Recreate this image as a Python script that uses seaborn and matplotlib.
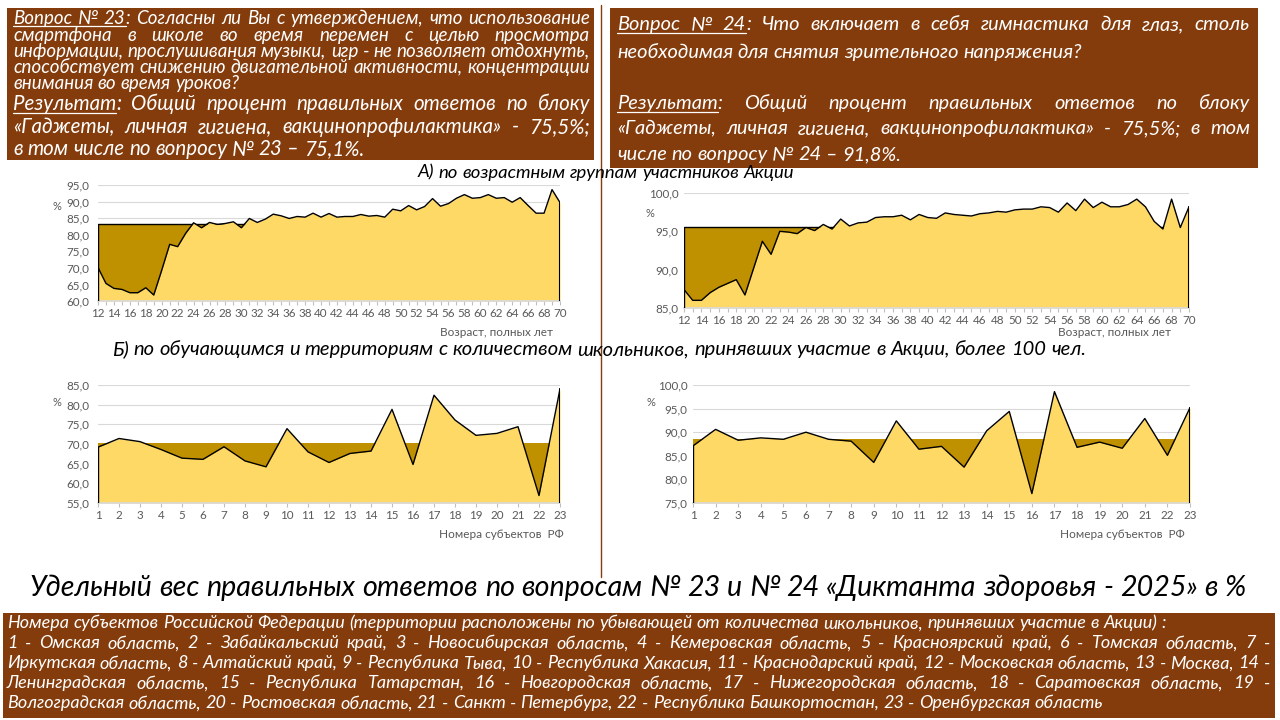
import matplotlib
matplotlib.use("Agg")
import matplotlib.pyplot as plt
from matplotlib.lines import Line2D
from matplotlib.patches import Rectangle
from matplotlib.ticker import FuncFormatter
import numpy as np
import seaborn as sns

# ---- data -------------------------------------------------------------
ages = list(range(12, 71))
q23_by_age = [70.1, 65.3, 63.8, 63.5, 62.5, 62.5, 64.0, 61.8, 69.3, 77.1,
              76.4, 80.4, 83.6, 82.1, 83.7, 83.1, 83.4, 83.9, 82.1, 84.9,
              83.7, 84.7, 86.2, 85.7, 84.9, 85.5, 85.3, 86.5, 85.3, 86.4,
              85.3, 85.5, 85.5, 86.1, 85.6, 85.8, 85.3, 87.7, 87.2, 88.8,
              87.5, 88.5, 90.9, 88.6, 89.4, 91.0, 92.1, 91.0, 91.2, 92.1,
              91.0, 91.2, 89.8, 91.2, 88.8, 86.5, 86.5, 93.6, 89.7]
q24_by_age = [87.4, 86.0, 86.0, 87.0, 87.7, 88.2, 88.7, 86.7, 90.2, 93.7,
              92.0, 95.0, 94.9, 94.7, 95.5, 95.1, 95.9, 95.3, 96.6, 95.7,
              96.1, 96.2, 96.8, 96.9, 96.9, 97.1, 96.5, 97.2, 96.8, 96.7,
              97.4, 97.2, 97.1, 97.0, 97.3, 97.4, 97.6, 97.5, 97.8, 97.9,
              97.9, 98.2, 98.1, 97.5, 98.7, 97.7, 99.2, 98.1, 98.8, 98.2,
              98.2, 98.5, 99.2, 98.2, 96.3, 95.3, 99.2, 95.5, 98.2]
q23_age_mean = 83.1
q24_age_mean = 95.6

regions = list(range(1, 24))
q23_by_region = [69.2, 71.4, 70.6, 68.6, 66.4, 66.1, 69.3, 65.7, 64.2, 73.9,
                 68.0, 65.3, 67.6, 68.2, 78.8, 64.8, 82.4, 76.1, 72.2, 72.7,
                 74.4, 56.9, 84.0]
q24_by_region = [87.1, 90.6, 88.3, 88.8, 88.5, 90.0, 88.5, 88.1, 83.6, 92.4,
                 86.4, 87.0, 82.6, 90.3, 94.4, 77.0, 98.6, 86.8, 87.9, 86.6,
                 92.9, 85.1, 95.2]
q23_region_mean = 70.2
q24_region_mean = 88.6

# [ ... ] marks underlined text
box1_question = [
    "[Вопрос № 23]: Согласны ли Вы с утверждением, что использование",
    "смартфона в школе во время перемен с целью просмотра",
    "информации, прослушивания музыки, игр - не позволяет отдохнуть,",
    "способствует снижению двигательной активности, концентрации",
    "внимания во время уроков?",
]
box1_result = [
    "[Результат]: Общий процент правильных ответов по блоку",
    "«Гаджеты, личная гигиена, вакцинопрофилактика» - 75,5%;",
    "в том числе по вопросу № 23 – 75,1%.",
]
box2_lines = [
    "[Вопрос № 24]: Что включает в себя гимнастика для глаз, столь",
    "необходимая для снятия зрительного напряжения?",
    "[Результат]: Общий процент правильных ответов по блоку",
    "«Гаджеты, личная гигиена, вакцинопрофилактика» - 75,5%; в том",
    "числе по вопросу № 24 – 91,8%.",
]
legend_lines = [
    "Номера субъектов Российской Федерации (территории расположены по убывающей от количества школьников, принявших участие в Акции) :",
    "1 - Омская область, 2 - Забайкальский край, 3 - Новосибирская область, 4 - Кемеровская область, 5 - Красноярский край, 6 - Томская область, 7 -",
    "Иркутская область, 8 - Алтайский край, 9 - Республика Тыва, 10 - Республика Хакасия, 11 - Краснодарский край, 12 - Московская область, 13 - Москва, 14 -",
    "Ленинградская область, 15 - Республика Татарстан, 16 - Новгородская область, 17 - Нижегородская область, 18 - Саратовская область, 19 -",
    "Волгоградская область, 20 - Ростовская область, 21 - Санкт - Петербург, 22 - Республика Башкортостан, 23 - Оренбургская область",
]
title = "Удельный вес правильных ответов по вопросам № 23 и № 24 «Диктанта здоровья - 2025» в %"
sub_a = "А) по возрастным группам участников Акции"
sub_b = "Б) по обучающимся и территориям с количеством школьников,  принявших участие в Акции, более 100 чел."

# ---- style ------------------------------------------------------------
sns.set_theme(style="white")
plt.rcParams["font.family"] = ["Lato", "DejaVu Sans"]

W, H = 1280, 720
BROWN = "#843C0C"
LIGHT = "#FFD966"
DARK = "#BF9000"
GRID = "#D9D9D9"
TICK = "#595959"

fig = plt.figure(figsize=(12.8, 7.2), dpi=100)
fig.patch.set_facecolor("white")
renderer = fig.canvas.get_renderer()


def text_width(s, size):
    t = fig.text(0, 0, s, fontsize=size, style="italic")
    w = t.get_window_extent(renderer).width
    t.remove()
    return w


def space_width(size):
    return text_width("н н", size) - text_width("нн", size)


def parse(line):
    words, ul = [], False
    for raw in line.split():
        pieces, buf = [], ""
        for ch in raw:
            if ch in "[]":
                if buf:
                    pieces.append((buf, ul))
                    buf = ""
                ul = ch == "["
            else:
                buf += ch
        if buf:
            pieces.append((buf, ul))
        words.append(pieces)
    return words


def natural_width(line, size):
    words = parse(line)
    total = sum(text_width(p, size) for w in words for p, _ in w)
    return total + (len(words) - 1) * space_width(size)


def fit_size(specs, base=12.0):
    return min(base * tw / natural_width(l, base) for l, tw in specs)


def underline(a, b, ybase, size, color):
    y = ybase + size * 100 / 72 * 0.13
    fig.add_artist(Line2D([a / W, b / W], [1 - y / H, 1 - y / H],
                          transform=fig.transFigure, color=color, lw=0.9))


def draw_line(line, x0, x1, yc, size, justify=False, color="white", center=False):
    words = parse(line)
    widths = [[text_width(p, size) for p, _ in w] for w in words]
    total = sum(sum(w) for w in widths)
    if justify and len(words) > 1:
        gap = (x1 - x0 - total) / (len(words) - 1)
    else:
        gap = space_width(size)
    x = x0
    if center:
        x = (x0 + x1) / 2 - (total + gap * (len(words) - 1)) / 2
    ybase = yc + size * 100 / 72 * 0.3
    ul_start = ul_end = None
    for word, ws in zip(words, widths):
        for (piece, ul), w in zip(word, ws):
            fig.text(x / W, 1 - ybase / H, piece, fontsize=size, style="italic",
                     color=color, va="baseline", ha="left")
            if ul:
                if ul_start is None:
                    ul_start = x
                ul_end = x + w
            elif ul_start is not None:
                underline(ul_start, ul_end, ybase, size, color)
                ul_start = None
            x += w
        x += gap
    if ul_start is not None:
        underline(ul_start, ul_end, ybase, size, color)


def box(x0, y0, x1, y1):
    fig.add_artist(Rectangle((x0 / W, 1 - y1 / H), (x1 - x0) / W, (y1 - y0) / H,
                             transform=fig.transFigure, facecolor=BROWN,
                             edgecolor="none", zorder=0))


# ---- text boxes -------------------------------------------------------
box(7, 8, 594, 160)
s = fit_size([(l, 577) for l in box1_question[:4]] + [(box1_question[4], 226)])
for line, yc in zip(box1_question, [18, 35, 51, 67, 83]):
    draw_line(line, 13, 590, yc, s, justify=not line.endswith("?"))
s = fit_size([(l, 577) for l in box1_result[:2]] + [(box1_result[2], 351)])
for line, yc, j in zip(box1_result, [104, 127, 149], [True, True, False]):
    draw_line(line, 13, 590, yc, s, justify=j)

box(610, 8, 1258, 168)
just2 = [True, False, True, True, False]
s = fit_size([(box2_lines[0], 633), (box2_lines[1], 482), (box2_lines[2], 633),
              (box2_lines[3], 633), (box2_lines[4], 282)])
for line, yc, j in zip(box2_lines, [24, 52, 103, 128, 154], just2):
    draw_line(line, 617, 1250, yc, s, justify=j)

box(3, 613, 1275, 718)
just3 = [False, True, True, True, False]
s = fit_size([(legend_lines[0], 1193), (legend_lines[1], 1263), (legend_lines[2], 1263),
              (legend_lines[3], 1263), (legend_lines[4], 1094)])
for line, yc, j in zip(legend_lines, [623, 643, 663, 683, 703], just3):
    draw_line(line, 7, 1270, yc, s, justify=j)

# titles
draw_line(title, 33, 1243, 587, fit_size([(title, 1210)]), color="black", center=True)
draw_line(sub_a, 418, 793, 172, fit_size([(sub_a, 375)]), color="black", center=True)
draw_line(sub_b, 115, 1083, 349, fit_size([(sub_b, 968)]), color="black", center=True)

fig.add_artist(Line2D([601 / W, 601 / W], [1 - 5 / H, 1 - 577 / H],
                      transform=fig.transFigure, color=BROWN, lw=1))


# ---- charts -----------------------------------------------------------
def chart(rect, x, y, mean, ylim, step, label_every, xlabel, xlabel_xy, pct_xy,
          mean_edge, ypad):
    x0, x1, ytop, ybot = rect
    ax = fig.add_axes([x0 / W, 1 - ybot / H, (x1 - x0) / W, (ybot - ytop) / H])
    lo, hi = ylim
    ax.fill_between(x, lo, mean, color=DARK, lw=0, zorder=1)
    if mean_edge:
        ax.plot([x[0], x[0], x[-1]], [lo, mean, mean], color="black", lw=1, zorder=1.5)
    ax.fill_between(x, lo, y, color=LIGHT, lw=0, zorder=2)
    sns.lineplot(x=x, y=y, ax=ax, color="black", linewidth=1, zorder=3)
    ax.plot([x[0], x[0]], [lo, y[0]], color="black", lw=1, zorder=3)
    ax.plot([x[-1], x[-1]], [lo, y[-1]], color="black", lw=1.5, zorder=3)
    ax.set_xlim(x[0], x[-1])
    ax.set_ylim(lo, hi)
    ax.set_yticks(np.arange(lo, hi + step / 2, step))
    ax.yaxis.set_major_formatter(FuncFormatter(lambda v, _: f"{v:.1f}".replace(".", ",")))
    ax.set_xticks(x)
    ax.set_xticklabels([str(v) if (v - x[0]) % label_every == 0 else "" for v in x])
    ax.grid(axis="y", color=GRID, lw=0.8)
    ax.set_axisbelow(True)
    for side in ("top", "right", "left"):
        ax.spines[side].set_visible(False)
    ax.spines["bottom"].set_color(GRID)
    ax.tick_params(axis="x", length=3, width=0.8, color="#BFBFBF", labelsize=8.4,
                   labelcolor=TICK, pad=2, bottom=True)
    ax.tick_params(axis="y", length=0, labelsize=8.4, labelcolor=TICK, pad=ypad)
    ax.set_xlabel("")
    ax.set_ylabel("")
    ax.set_facecolor("none")
    fig.text(xlabel_xy[0] / W, 1 - xlabel_xy[1] / H, xlabel, fontsize=8.5, color=TICK,
             ha="left", va="center")
    fig.text(pct_xy[0] / W, 1 - pct_xy[1] / H, "%", fontsize=8, color=TICK,
             ha="center", va="center")
    return ax


chart((98, 560, 185, 301), ages, q23_by_age, q23_age_mean, (60, 95), 5, 2,
      "Возраст, полных лет", (440, 332), (57, 206), True, 6)
chart((684, 1189, 193, 308), ages, q24_by_age, q24_age_mean, (85, 100), 5, 2,
      "Возраст, полных лет", (1058, 333), (650, 213), True, 4)
chart((98, 560, 385, 503), regions, q23_by_region, q23_region_mean, (55, 85), 5, 1,
      "Номера субъектов  РФ", (439, 534), (57, 402), False, 6)
chart((693, 1190, 385, 503), regions, q24_by_region, q24_region_mean, (75, 100), 5, 1,
      "Номера субъектов  РФ", (1060, 534), (651, 402), False, 4)

fig.savefig("out.png", dpi=100)
